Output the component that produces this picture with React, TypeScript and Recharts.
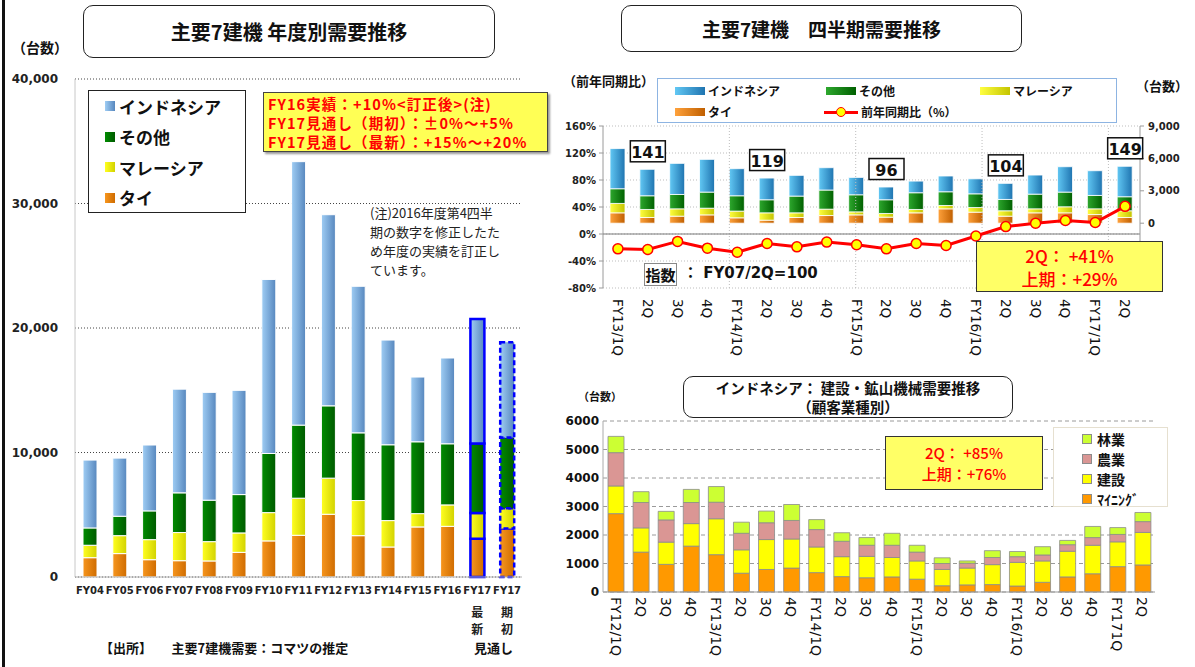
import React from 'react';
import {
  Bar,
  BarChart,
  CartesianGrid,
  Cell,
  ComposedChart,
  LabelList,
  Line,
  ReferenceLine,
  XAxis,
  YAxis,
} from 'recharts';

const FONT = '"DejaVu Sans", "Noto Sans CJK JP", sans-serif';
const JP = '"Noto Sans CJK JP", "DejaVu Sans", sans-serif';

// 年度別 (left chart)
const annualLabels = ['FY04', 'FY05', 'FY06', 'FY07', 'FY08', 'FY09', 'FY10', 'FY11', 'FY12', 'FY13', 'FY14', 'FY15', 'FY16', 'FY17', 'FY17'];
const annualSub = ['', '', '', '', '', '', '', '', '', '', '', '', '', '最新', '期初'];
const annualThai = [1550, 1880, 1390, 1310, 1290, 1980, 2900, 3350, 5040, 3320, 2410, 4020, 4070, 3080, 3890];
const annualMalaysia = [1000, 1440, 1610, 2260, 1550, 1560, 2270, 2980, 2900, 2820, 2120, 1070, 1720, 2070, 1630];
const annualOther = [1390, 1560, 2310, 3190, 3330, 3080, 4750, 5870, 5810, 5440, 6090, 5770, 4910, 5570, 5680];
const annualIndonesia = [5450, 4670, 5290, 8330, 8660, 8370, 13980, 21160, 15350, 11770, 8410, 5200, 6890, 10000, 7650];
const annualTicks = [0, 10000, 20000, 30000, 40000];

// 四半期 (top right chart)
const quarterLabels = ['FY13/1Q', '2Q', '3Q', '4Q', 'FY14/1Q', '2Q', '3Q', '4Q', 'FY15/1Q', '2Q', '3Q', '4Q', 'FY16/1Q', '2Q', '3Q', '4Q', 'FY17/1Q', '2Q'];
const quarterThai = [960, 530, 650, 770, 500, 280, 530, 710, 770, 560, 960, 1330, 1020, 650, 960, 960, 800, 530];
const quarterMalaysia = [870, 740, 680, 620, 620, 680, 430, 590, 280, 340, 310, 310, 430, 500, 370, 560, 530, 620];
const quarterOther = [1360, 1270, 1330, 1490, 1420, 1210, 1550, 1770, 1580, 1270, 1550, 1270, 1270, 1050, 1360, 1360, 1240, 1300];
const quarterIndonesia = [3720, 2450, 2880, 3030, 2510, 2010, 1920, 2070, 1610, 1180, 1080, 1460, 1390, 1490, 1770, 2350, 2290, 2820];
const quarterYoY = [-22, -23, -11, -21, -27, -14, -19, -12, -16, -22, -14, -17, -3, 11, 16, 20, 17, 41];
const quarterIndex = [null, 141, null, null, null, 119, null, null, null, 96, null, null, null, 104, null, null, null, 149];
const pctTicks = [-80, -40, 0, 40, 80, 120, 160];
const unitTicks = [0, 3000, 6000, 9000];
const yearBoundaries = [4, 8, 12, 16];

// インドネシア 顧客業種別 (bottom right chart)
const indoLabels = ['FY12/1Q', '2Q', '3Q', '4Q', 'FY13/1Q', '2Q', '3Q', '4Q', 'FY14/1Q', '2Q', '3Q', '4Q', 'FY15/1Q', '2Q', '3Q', '4Q', 'FY16/1Q', '2Q', '3Q', '4Q', 'FY171Q', '2Q'];
const indoMining = [2750, 1400, 970, 1610, 1310, 660, 790, 840, 680, 540, 500, 530, 450, 220, 250, 260, 210, 340, 530, 640, 890, 950];
const indoConstruction = [970, 850, 780, 790, 1260, 820, 1050, 1020, 900, 700, 750, 680, 640, 570, 590, 700, 830, 750, 900, 1000, 870, 1140];
const indoAgriculture = [1170, 890, 780, 740, 580, 580, 590, 650, 610, 540, 390, 430, 310, 210, 170, 250, 200, 210, 230, 270, 260, 380];
const indoForestry = [570, 380, 300, 460, 550, 390, 410, 560, 350, 300, 270, 420, 240, 200, 80, 240, 180, 290, 150, 390, 240, 320];
const indoTicks = [0, 1000, 2000, 3000, 4000, 5000, 6000];

const annualData = annualLabels.map((label, i) => ({
  id: `a${i}`,
  label,
  thai: annualThai[i],
  malaysia: annualMalaysia[i],
  other: annualOther[i],
  indonesia: annualIndonesia[i],
}));

const quarterData = quarterLabels.map((label, i) => ({
  id: `q${i}`,
  label,
  thai: quarterThai[i],
  malaysia: quarterMalaysia[i],
  other: quarterOther[i],
  indonesia: quarterIndonesia[i],
  yoy: quarterYoY[i],
  idx: quarterIndex[i],
}));

const indoData = indoLabels.map((label, i) => ({
  id: `i${i}`,
  label,
  mining: indoMining[i],
  construction: indoConstruction[i],
  agriculture: indoAgriculture[i],
  forestry: indoForestry[i],
}));

const labelOf = (data: any[], id: string) => {
  const d = data.find((r) => r.id === id);
  return d ? d.label : '';
};

function AnnualTick({ x, y, payload }: any) {
  const i = annualData.findIndex((d) => d.id === payload.value);
  const sub = annualSub[i] || '';
  return (
    <g>
      <text x={x} y={y + 13} textAnchor="middle" dominantBaseline="central" fontFamily={FONT} fontSize={10} fontWeight="bold" fill="#222">
        {annualLabels[i]}
      </text>
      {sub.split('').map((ch, k) => (
        <text key={k} x={x} y={y + 34 + k * 17} textAnchor="middle" dominantBaseline="central" fontFamily={JP} fontSize={12} fontWeight="bold" fill="#222">
          {ch}
        </text>
      ))}
    </g>
  );
}

const makeRotTick = (data: any[], offset: number, size: number) =>
  function RotTick({ x, y, payload }: any) {
    return (
      <text
        x={x}
        y={y + offset}
        transform={`rotate(90 ${x} ${y + offset})`}
        textAnchor="start"
        dominantBaseline="central"
        fontFamily={FONT}
        fontSize={size}
        fill="#111"
      >
        {labelOf(data, payload.value)}
      </text>
    );
  };

const QuarterTick = makeRotTick(quarterData, 11, 13.5);
const IndoTick = makeRotTick(indoData, 5, 14);

function IndexBox({ x, y, width, value }: any) {
  if (value === null || value === undefined) return null;
  const cx = x + width / 2;
  const cy = y - 18;
  return (
    <g>
      <rect x={cx - 17} y={cy - 10.5} width={35} height={21} fill="#fff" stroke="#111" strokeWidth={1.5} />
      <text x={cx + 0.5} y={cy + 1} textAnchor="middle" dominantBaseline="central" fontFamily={FONT} fontSize={16} fontWeight="bold" fill="#111">
        {value}
      </text>
    </g>
  );
}

const grad = (id: string, a: string, b: string) => (
  <linearGradient id={id} x1="0" y1="0" x2="1" y2="0">
    <stop offset="0%" stopColor={a} />
    <stop offset="100%" stopColor={b} />
  </linearGradient>
);

const box = (style: React.CSSProperties): React.CSSProperties => ({ position: 'absolute', boxSizing: 'border-box', ...style });

function AnnualChart() {
  const fy17 = (i: number) => i >= 13;
  const cellProps = (i: number) =>
    fy17(i)
      ? { stroke: '#0000ff', strokeWidth: 2.5, strokeDasharray: i === 14 ? '5 3' : undefined }
      : { stroke: '#ffffff', strokeWidth: 1 };
  const series = [
    { key: 'thai', fill: 'url(#aOrange)' },
    { key: 'malaysia', fill: 'url(#aYellow)' },
    { key: 'other', fill: 'url(#aGreen)' },
    { key: 'indonesia', fill: 'url(#aBlue)' },
  ];
  return (
    <div style={{ position: 'absolute', left: 0, top: 0 }}>
      <BarChart width={540} height={667} data={annualData} margin={{ top: 79, right: 18, bottom: 0, left: 0 }}>
        <defs>
          {grad('aOrange', '#f7961e', '#cf6c00')}
          {grad('aYellow', '#ffff20', '#d2d200')}
          {grad('aGreen', '#008c00', '#005a00')}
          {grad('aBlue', '#9fcdf4', '#5787be')}
        </defs>
        <CartesianGrid vertical={false} stroke="#444" strokeDasharray="1 2" />
        <XAxis dataKey="id" interval={0} tick={<AnnualTick />} tickSize={0} tickMargin={0} height={90} axisLine={{ stroke: '#b0b0b0' }} tickLine={false} />
        <YAxis
          domain={[0, 40000]}
          ticks={annualTicks}
          width={75}
          tickSize={6}
          tickMargin={11}
          tickLine={false}
          axisLine={{ stroke: '#c8c8c8' }}
          tickFormatter={(v) => v.toLocaleString('en-US')}
          tick={{ fontFamily: FONT, fontSize: 12, fontWeight: 'bold', fill: '#222' }}
        />
        {series.map((s) => (
          <Bar key={s.key} dataKey={s.key} stackId="a" fill={s.fill} barSize={14} isAnimationActive={false}>
            {annualData.map((d, i) => (
              <Cell key={d.id} {...cellProps(i)} />
            ))}
          </Bar>
        ))}
      </BarChart>
    </div>
  );
}

function QuarterChart() {
  return (
    <div style={{ position: 'absolute', left: 540, top: 0 }}>
      <ComposedChart width={655} height={380} data={quarterData} margin={{ top: 126, right: 0, bottom: 0, left: 0 }}>
        <defs>
          {grad('qOrange', '#ffa23c', '#c05f00')}
          {grad('qYellow', '#ffff40', '#c4c400')}
          {grad('qGreen', '#2ea82e', '#006000')}
          {grad('qBlue', '#62c8f4', '#1f74b0')}
        </defs>
        <CartesianGrid yAxisId="pct" vertical={false} stroke="#bdbdbd" strokeDasharray="1 2" />
        <XAxis dataKey="id" interval={0} tick={<QuarterTick />} tickSize={0} tickMargin={0} height={92} axisLine={false} tickLine={false} />
        <XAxis xAxisId="grid" type="number" domain={[0, 18]} allowDataOverflow hide />
        <YAxis
          yAxisId="pct"
          domain={[-80, 160]}
          ticks={pctTicks}
          width={63}
          tickSize={4}
          tickMargin={3}
          axisLine={{ stroke: '#9a9a9a' }}
          tickLine={{ stroke: '#9a9a9a' }}
          tickFormatter={(v) => `${v}%`}
          tick={{ fontFamily: FONT, fontSize: 10, fontWeight: 'bold', fill: '#222' }}
        />
        <YAxis
          yAxisId="units"
          orientation="right"
          domain={[-6000, 9000]}
          ticks={unitTicks}
          width={55}
          tickSize={4}
          tickMargin={4}
          axisLine={{ stroke: '#9a9a9a' }}
          tickLine={{ stroke: '#9a9a9a' }}
          tickFormatter={(v) => v.toLocaleString('en-US')}
          tick={{ fontFamily: FONT, fontSize: 10, fontWeight: 'bold', fill: '#222' }}
        />
        {yearBoundaries.map((b) => (
          <ReferenceLine key={b} xAxisId="grid" yAxisId="pct" x={b} stroke="#bdbdbd" strokeDasharray="1 2" />
        ))}
        <ReferenceLine yAxisId="pct" y={0} stroke="#7a7a7a" strokeWidth={1.2} />
        <Bar yAxisId="units" dataKey="thai" stackId="q" fill="url(#qOrange)" stroke="#fff" strokeWidth={0.8} barSize={15} isAnimationActive={false} />
        <Bar yAxisId="units" dataKey="malaysia" stackId="q" fill="url(#qYellow)" stroke="#fff" strokeWidth={0.8} barSize={15} isAnimationActive={false} />
        <Bar yAxisId="units" dataKey="other" stackId="q" fill="url(#qGreen)" stroke="#fff" strokeWidth={0.8} barSize={15} isAnimationActive={false} />
        <Bar yAxisId="units" dataKey="indonesia" stackId="q" fill="url(#qBlue)" stroke="#fff" strokeWidth={0.8} barSize={15} isAnimationActive={false}>
          <LabelList dataKey="idx" content={<IndexBox />} />
        </Bar>
        <Line
          yAxisId="pct"
          dataKey="yoy"
          type="linear"
          stroke="#ff0000"
          strokeWidth={3}
          dot={{ r: 5, fill: '#ffff00', stroke: '#ff0000', strokeWidth: 1.5 }}
          isAnimationActive={false}
        />
      </ComposedChart>
    </div>
  );
}

function IndoChart() {
  const series = [
    { key: 'mining', fill: '#ff9900' },
    { key: 'construction', fill: '#ffff00' },
    { key: 'agriculture', fill: '#da9694' },
    { key: 'forestry', fill: '#ccff33' },
  ];
  return (
    <div style={{ position: 'absolute', left: 540, top: 380 }}>
      <BarChart width={655} height={287} data={indoData} margin={{ top: 41, right: 40, bottom: 0, left: 0 }}>
        <CartesianGrid vertical={false} stroke="#9a9a9a" strokeDasharray="4 3" />
        <XAxis dataKey="id" interval={0} tick={<IndoTick />} tickSize={0} tickMargin={0} height={75} axisLine={{ stroke: '#999' }} tickLine={false} />
        <YAxis
          domain={[0, 6000]}
          ticks={indoTicks}
          width={63}
          tickSize={0}
          tickMargin={4}
          tickLine={false}
          axisLine={{ stroke: '#aaa' }}
          tick={{ fontFamily: FONT, fontSize: 12, fontWeight: 'bold', fill: '#111' }}
        />
        {series.map((s) => (
          <Bar key={s.key} dataKey={s.key} stackId="i" fill={s.fill} stroke="#8c8c8c" strokeWidth={0.8} barSize={16} isAnimationActive={false} />
        ))}
      </BarChart>
    </div>
  );
}

const jpText = (size: number, weight: number | string = 700): React.CSSProperties => ({
  fontFamily: JP,
  fontSize: size,
  fontWeight: weight as any,
  color: '#111',
  whiteSpace: 'nowrap',
  lineHeight: 1,
});

function Swatch({ bg, w = 10, h = 10, border }: { bg: string; w?: number; h?: number; border?: string }) {
  return <span style={{ display: 'inline-block', width: w, height: h, background: bg, border, boxSizing: 'border-box' }} />;
}

export default function App() {
  const titleBox: React.CSSProperties = {
    border: '1.5px solid #222',
    borderRadius: 10,
    background: '#fff',
    display: 'flex',
    alignItems: 'center',
    justifyContent: 'center',
    ...jpText(19),
  };
  const leftLegend = [
    { label: 'インドネシア', bg: 'linear-gradient(90deg,#9fcdf4,#5787be)' },
    { label: 'その他', bg: 'linear-gradient(90deg,#008c00,#005a00)' },
    { label: 'マレーシア', bg: 'linear-gradient(90deg,#ffff20,#d2d200)' },
    { label: 'タイ', bg: 'linear-gradient(90deg,#f7961e,#cf6c00)' },
  ];
  const indoLegend = [
    { label: '林業', bg: '#ccff33' },
    { label: '農業', bg: '#da9694' },
    { label: '建設', bg: '#ffff00' },
    { label: 'ﾏｲﾆﾝｸﾞ', bg: '#ff9900' },
  ];
  const yellowNote: React.CSSProperties = {
    background: '#ffff66',
    border: '1.5px solid #333',
    display: 'flex',
    flexDirection: 'column',
    alignItems: 'center',
    justifyContent: 'center',
    color: '#ff0000',
  };
  return (
    <div style={{ position: 'absolute', left: 0, top: 0, width: 1195, height: 667, background: '#fff', overflow: 'hidden' }}>
      <div style={box({ left: 2, top: 0, width: 3, height: 667, background: '#111' })} />

      <AnnualChart />
      <QuarterChart />
      <IndoChart />

      {/* left chart overlays */}
      <div style={box({ left: 83, top: 5, width: 412, height: 53, ...titleBox, fontSize: 20 })}>主要7建機 年度別需要推移</div>
      <div style={box({ left: 12, top: 40, ...jpText(14) })}>（台数）</div>
      <div style={box({ left: 88, top: 90, width: 158, height: 123, border: '1.5px solid #222', background: '#fff' })}>
        {leftLegend.map((l, i) => (
          <div key={l.label} style={box({ left: 16, top: 5 + i * 30.5, height: 20, display: 'flex', alignItems: 'center', gap: 4, ...jpText(17) })}>
            <Swatch bg={l.bg} />
            <span>{l.label}</span>
          </div>
        ))}
      </div>
      <div
        style={box({
          left: 263,
          top: 92,
          width: 285,
          height: 60,
          background: '#ffff55',
          border: '1.5px solid #444',
          boxShadow: '2px 2px 2px #999',
          padding: '1px 0 0 4px',
          ...jpText(14.5),
          letterSpacing: 1.1,
          color: '#ff0000',
          lineHeight: '19px',
        })}
      >
        <div>FY16実績：+10%&lt;訂正後&gt;(注)</div>
        <div>FY17見通し（期初）：±0%～+5%</div>
        <div>FY17見通し（最新）：+15%～+20%</div>
      </div>
      <div style={box({ left: 370, top: 203, width: 160, ...jpText(13, 400), color: '#222', lineHeight: '19px' })}>
        <div>(注)2016年度第4四半</div>
        <div>期の数字を修正したた</div>
        <div>め年度の実績を訂正し</div>
        <div>ています。</div>
      </div>
      <div style={box({ left: 100, top: 641, ...jpText(13) })}>【出所】　　主要7建機需要：コマツの推定</div>
      <div style={box({ left: 474, top: 641, ...jpText(13) })}>見通し</div>

      {/* top right overlays */}
      <div style={box({ left: 621, top: 5, width: 401, height: 47, ...titleBox })}>主要7建機　四半期需要推移</div>
      <div style={box({ left: 563, top: 74, ...jpText(13) })}>（前年同期比）</div>
      <div style={box({ left: 1136, top: 79, ...jpText(13) })}>（台数）</div>
      <div style={box({ left: 657, top: 78, width: 460, height: 45, border: '1.5px solid #8db4e2', background: '#fff' })}>
        {[
          { label: 'インドネシア', bg: 'linear-gradient(90deg,#62c8f4,#1f74b0)', l: 17, t: 5 },
          { label: 'その他', bg: 'linear-gradient(90deg,#2ea82e,#006000)', l: 168, t: 5 },
          { label: 'マレーシア', bg: 'linear-gradient(90deg,#ffff40,#c4c400)', l: 322, t: 5 },
          { label: 'タイ', bg: 'linear-gradient(90deg,#ffa23c,#c05f00)', l: 17, t: 26 },
        ].map((it) => (
          <div key={it.label} style={box({ left: it.l, top: it.t, height: 14, display: 'flex', alignItems: 'center', gap: 3, ...jpText(12) })}>
            <Swatch bg={it.bg} w={30} h={8} />
            <span>{it.label}</span>
          </div>
        ))}
        <div style={box({ left: 166, top: 26, height: 14, display: 'flex', alignItems: 'center', gap: 3, ...jpText(12) })}>
          <span style={{ position: 'relative', display: 'inline-block', width: 34, height: 10 }}>
            <span style={{ position: 'absolute', left: 0, top: 3.5, width: 34, height: 3, background: '#ff0000' }} />
            <span style={{ position: 'absolute', left: 12, top: 0, width: 10, height: 10, borderRadius: 5, background: '#ffff00', border: '1.5px solid #ff0000', boxSizing: 'border-box' }} />
          </span>
          <span>前年同期比（%）</span>
        </div>
      </div>
      <div style={box({ left: 644, top: 263, width: 33, height: 23, border: '1px solid #888', display: 'flex', alignItems: 'center', justifyContent: 'center', ...jpText(15) })}>指数</div>
      <div style={box({ left: 683, top: 266, ...jpText(15), fontFamily: FONT, fontWeight: 700 })}>：&nbsp;FY07/2Q=100</div>
      <div style={box({ left: 976, top: 241, width: 187, height: 51, ...yellowNote, ...jpText(17, 500), color: '#ff0000', lineHeight: '23px' })}>
        <div>2Q：&nbsp;+41%</div>
        <div>上期：+29%</div>
      </div>

      {/* bottom right overlays */}
      <div style={box({ left: 683, top: 376, width: 330, height: 42, ...titleBox, ...jpText(14.5), flexDirection: 'column', lineHeight: '19px' })}>
        <div>インドネシア：&nbsp;建設・鉱山機械需要推移</div>
        <div>（顧客業種別）</div>
      </div>
      <div style={box({ left: 578, top: 391, ...jpText(11) })}>（台数）</div>
      <div style={box({ left: 885, top: 436, width: 158, height: 54, ...yellowNote, ...jpText(15, 500), color: '#ff0000', lineHeight: '21px' })}>
        <div>2Q：&nbsp;+85%</div>
        <div>上期：+76%</div>
      </div>
      <div style={box({ left: 1053, top: 427, width: 115, height: 80, border: '1px solid #e6e0d0', background: '#fff' })}>
        {indoLegend.map((l, i) => (
          <div key={l.label} style={box({ left: 28, top: 3 + i * 20, height: 16, display: 'flex', alignItems: 'center', gap: 5, ...jpText(14) })}>
            <Swatch bg={l.bg} border="1px solid #8c8c8c" />
            <span>{l.label}</span>
          </div>
        ))}
      </div>
    </div>
  );
}
